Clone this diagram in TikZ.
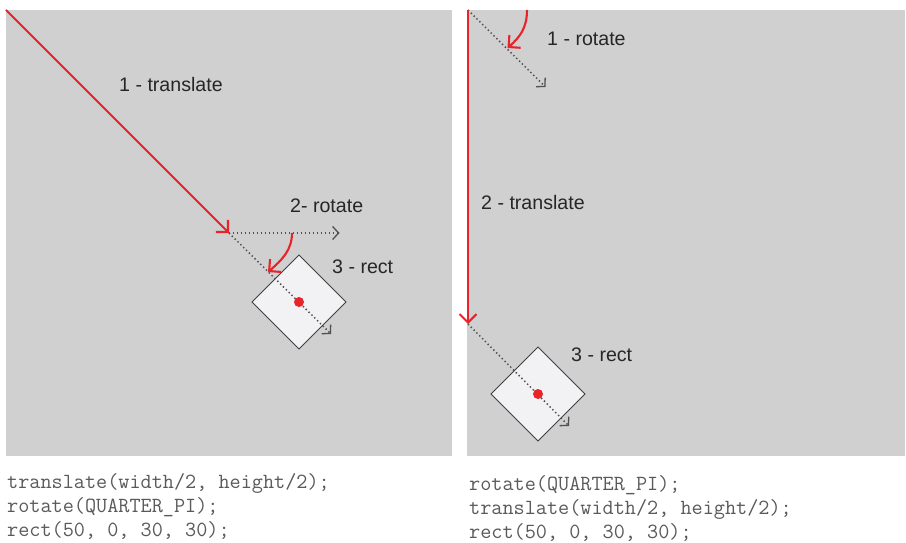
\documentclass[tikz,border=0pt]{standalone}
\usepackage{fontspec}
\setmainfont{Liberation Sans}
\usetikzlibrary{arrows.meta}
\definecolor{panelgray}{HTML}{D0D0D0}
\definecolor{redline}{HTML}{E8232A}
\definecolor{rectfill}{HTML}{F2F2F4}
\definecolor{dotgray}{HTML}{505050}
\definecolor{codegray}{HTML}{5A5A5A}
\tikzset{
  panel/.style={fill=panelgray, draw=none},
  redarrow/.style={draw=redline, line width=2.1pt, -{Straight Barb[length=8.5pt, width=17pt, line width=2.1pt]}},
  guide/.style={draw=dotgray, line width=1.5pt, dash pattern=on 1.4pt off 2.6pt,
     -{Straight Barb[length=6pt, width=13pt, line width=1.3pt, sep=0pt]}},
  rectshape/.style={fill=rectfill, draw=black!75, line width=1pt},
  dot/.style={circle, fill=redline, draw=none, minimum size=10pt, inner sep=0pt},
  lbl/.style={anchor=base west, inner sep=0pt, font=\fontsize{19.6pt}{22pt}\selectfont, text=black!85},
  code/.style={anchor=base west, inner sep=0pt, font=\ttfamily\fontsize{21.6pt}{24pt}\selectfont, text=codegray},
}
\begin{document}
\begin{tikzpicture}[x=1pt, y=-1pt]
\useasboundingbox (0,0) rectangle (906,543);
\fill[white] (0,0) rectangle (906,543);
% panels
\path[panel] (6,10) rectangle (452,456);
\path[panel] (467,10) rectangle (905,456);

% ---------- left panel ----------
\coordinate (LO) at (6,10);
\coordinate (LT) at (229,233);
\coordinate (LH) at (339.5,233);
\coordinate (LD) at (331,334);
\coordinate (LA) at (292,233);
\coordinate (LB) at (268,272);
\node[rectshape, minimum size=66.5pt, rotate=45, inner sep=0pt] (LR) at (299,302) {};
\draw[guide] (LT) -- (LH);
\draw[guide] (LT) -- (LD);
\node[dot] (LC) at (299,302) {};
\draw[redarrow] (LO) -- (LT);
\draw[redarrow] (LA) .. controls (292,250) and (282,260) .. (LB);
\node[lbl] (l1) at (119,92) {1 - translate};
\node[lbl] (l2) at (290,212) {2- rotate};
\node[lbl] (l3) at (332,273) {3 - rect};

% ---------- right panel ----------
\coordinate (RO) at (468,10);
\coordinate (RT) at (468,324);
\coordinate (RD1) at (545.5,87);
\coordinate (RD2) at (569,426);
\coordinate (RA) at (527,10);
\coordinate (RB) at (507.5,48);
\node[rectshape, minimum size=66.5pt, rotate=45, inner sep=0pt] (RR) at (538,394) {};
\draw[guide] (RO) -- (RD1);
\draw[guide] (RT) -- (RD2);
\node[dot] (RC) at (538,394) {};
\draw[redarrow] (RO) -- (RT);
\draw[redarrow] (RA) .. controls (527,28) and (520,37) .. (RB);
\node[lbl] (r1) at (547,46) {1 - rotate};
\node[lbl] (r2) at (481,209) {2 - translate};
\node[lbl] (r3) at (571,361) {3 - rect};

% ---------- code ----------
\node[code] (c1) at (7,488) {translate(width/2, height/2);};
\node[code] (c2) at (7,512) {rotate(QUARTER\_PI);};
\node[code] (c3) at (7,536) {rect(50, 0, 30, 30);};
\node[code] (d1) at (469,490.5) {rotate(QUARTER\_PI);};
\node[code] (d2) at (469,514.5) {translate(width/2, height/2);};
\node[code] (d3) at (469,538.5) {rect(50, 0, 30, 30);};
\end{tikzpicture}
\end{document}
